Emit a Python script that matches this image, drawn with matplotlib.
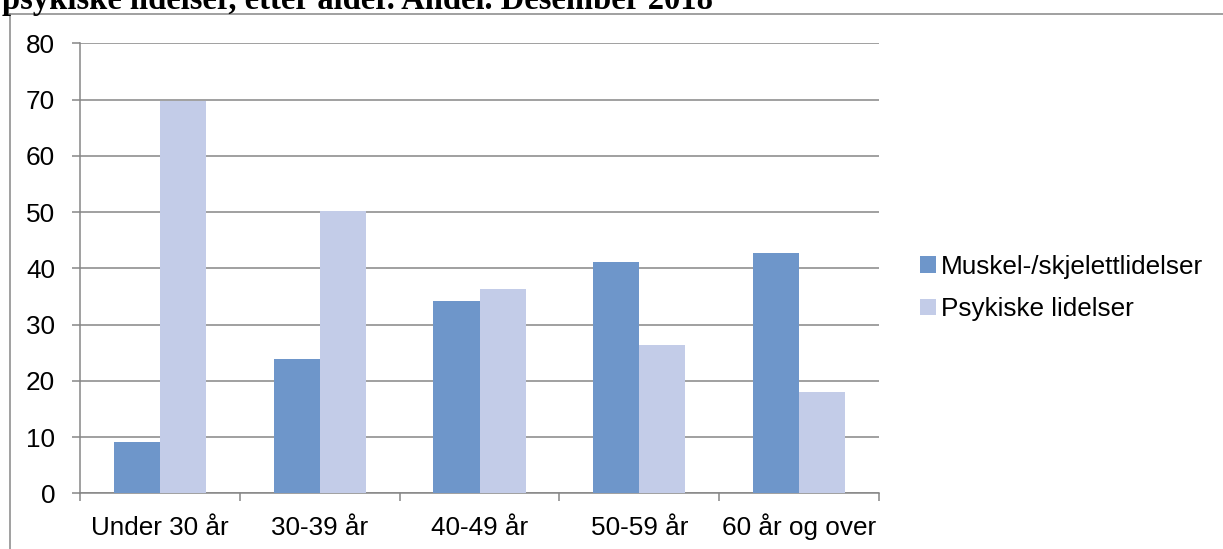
import numpy as np
import matplotlib.pyplot as plt
from matplotlib.lines import Line2D

# data
kategorier = ['Under 30 år', '30-39 år', '40-49 år', '50-59 år', '60 år og over']
muskel = [9.1, 23.9, 34.2, 41.1, 42.8]
psykiske = [69.8, 50.2, 36.3, 26.3, 18.0]
serie_navn = ['Muskel-/skjelettlidelser', 'Psykiske lidelser']
tittel = 'psykiske lidelser, etter alder. Andel. Desember 2018'

blaa = '#6E96CA'
lys = '#C3CCE8'
graa = '#868686'

plt.rcParams['font.family'] = ['Liberation Sans', 'DejaVu Sans']

fig = plt.figure(figsize=(12.23, 5.49), dpi=100)
ax = fig.add_axes([80 / 1223, 1 - 493.3 / 549, 799 / 1223, 450 / 549])

x = np.arange(len(kategorier))
b = 0.288
ax.bar(x - b / 2, muskel, b, color=blaa, label=serie_navn[0], zorder=3)
ax.bar(x + b / 2, psykiske, b, color=lys, label=serie_navn[1], zorder=3)

ax.set_xlim(-0.5, len(kategorier) - 0.5)
ax.set_ylim(0, 80)
ax.set_yticks(np.arange(0, 81, 10))
ax.yaxis.grid(True, color=graa, linewidth=1.1, zorder=0)
ax.set_axisbelow(True)

ax.set_xticks(x)
ax.set_xticklabels(kategorier)
for t in ax.get_xticklabels():
    t.set_va('baseline')
ax.set_xticks(np.arange(-0.5, len(kategorier)), minor=True)
ax.tick_params(axis='x', which='major', length=0, pad=30, labelsize=18.8)
ax.tick_params(axis='x', which='minor', length=6, width=1.1, color=graa)
ax.tick_params(axis='y', length=6, width=1.1, color=graa, pad=12, labelsize=18.8)

for s in ['top', 'right']:
    ax.spines[s].set_visible(False)
for s in ['left', 'bottom']:
    ax.spines[s].set_color(graa)
    ax.spines[s].set_linewidth(1.1)

fig.legend(loc='center left', bbox_to_anchor=(920 / 1223, 1 - 288 / 549),
           frameon=False, fontsize=18.8, handlelength=0.6, handleheight=0.6,
           handletextpad=0.2, labelspacing=0.72, borderpad=0, borderaxespad=0)

# ramme rundt diagrammet (kun venstre og topp synlig)
fig.add_artist(Line2D([10 / 1223, 10 / 1223], [0, 1 - 13.5 / 549], color=graa, lw=1.1,
                      transform=fig.transFigure))
fig.add_artist(Line2D([10 / 1223, 1], [1 - 13.5 / 549, 1 - 13.5 / 549], color=graa, lw=1.1,
                      transform=fig.transFigure))

fig.text(0.002, 1 - 9 / 549, tittel, family=['Liberation Serif', 'DejaVu Serif'],
         fontweight='bold', fontsize=23.5, va='baseline', ha='left')

fig.savefig('out.png', dpi=100)
